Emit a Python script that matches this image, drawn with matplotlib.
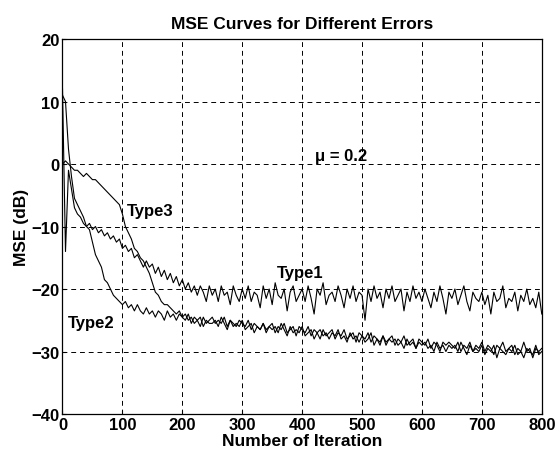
import numpy as np
import matplotlib
matplotlib.use("Agg")
import matplotlib.pyplot as plt

plt.rcParams["font.family"] = ["Liberation Sans", "DejaVu Sans"]
plt.rcParams["font.weight"] = "bold"

# iteration index, one reading every 5 iterations
iterations = np.arange(0, 801, 5)

type1 = [
    12, -14, -1, -4, -7, -8, -8.5, -9.5, -10, -9.5,
    -10.5, -10, -11, -10.5, -11.5, -11, -12, -11.5, -12.5, -12,
    -13.5, -13, -14, -13.5, -15, -14.5, -15.5, -16.5, -15.5, -16.5,
    -16, -17.5, -16.5, -18, -17, -18.5, -17.5, -19, -18, -19.5,
    -18.5, -20, -19, -20.5, -19.5, -21, -19.5, -20.5, -22, -19.5,
    -21, -20, -22, -19.5, -21, -20.5, -22.5, -19.5, -21, -22,
    -20, -21.5, -19.5, -22, -20.5, -21, -23, -19.5, -21.5, -20,
    -22.5, -19, -21, -21.5, -20, -23.5, -20.5, -19.5, -22, -21,
    -20, -22, -19.5, -21.5, -24, -20, -21, -19, -22.5, -21,
    -20.5, -22, -19.5, -21, -23, -20, -21.5, -19.5, -22, -20.5,
    -21, -25, -20, -22, -19.5, -21.5, -20.5, -23, -20, -21.5,
    -19.5, -22, -21, -20, -23.5, -20.5, -22, -19.5, -21.5, -20.5,
    -22, -20, -21.5, -23, -20.5, -22, -19.5, -21.5, -24, -20.5,
    -21.5, -20, -22.5, -21, -19.5, -22, -23.5, -20.5, -21.5, -22,
    -20.5, -22.5, -21, -24, -20.5, -22, -21.5, -19.5, -23, -21.5,
    -22, -20.5, -23.5, -21, -22, -20, -22.5, -21.5, -23, -20.5,
    -24,
]

type2 = [
    11, 10, 2.4, -2, -5.5, -6.5, -7.5, -8.5, -10, -10.5,
    -12.5, -14.5, -15.5, -16.5, -18.5, -19, -20, -21, -21.5, -22,
    -22.5, -22, -23, -22.5, -23.5, -22.5, -23.5, -24, -23, -24,
    -23.5, -24.5, -23.5, -24, -25, -23.5, -24.5, -24, -25, -24,
    -24.5, -25, -24, -25.5, -24.5, -25, -26, -24.5, -25.5, -25,
    -24.5, -25.5, -25, -25.5, -24.5, -26, -25, -25.5, -26, -25,
    -25.5, -26, -25, -26.5, -25.5, -26, -26.5, -25.5, -26.5, -26,
    -25.5, -27, -26, -26.5, -25.5, -27, -26.5, -26, -27.5, -26,
    -26.5, -27, -26, -27.5, -26.5, -27, -28, -26.5, -27.5, -27,
    -26.5, -28, -27, -27.5, -26.5, -28, -27.5, -27, -28.5, -27,
    -27.5, -28, -27, -28.5, -27.5, -28, -29, -27.5, -28.5, -28,
    -27.5, -29, -28, -28.5, -27.5, -29, -28.5, -28, -29.5, -28,
    -28.5, -29, -28, -29.5, -28.5, -29, -30, -28.5, -29, -28.5,
    -29, -29.5, -28.5, -30, -29, -29.5, -28.5, -30, -29, -29.5,
    -28.5, -30, -29, -29.5, -30.5, -29, -29.5, -28.5, -30, -29.5,
    -29, -30.5, -29.5, -30, -28.5, -30, -29.5, -31, -29.5, -30,
    -29.5,
]

type3 = [
    0, 0.5, 0, -0.5, -1, -1, -1.5, -2, -1.5, -2,
    -2.5, -2.5, -3, -3.5, -4, -4.5, -5, -5.5, -6, -6.5,
    -8, -10, -11, -12, -13.5, -14, -15, -15.5, -16.5, -17.5,
    -19, -20.5, -21, -22, -22.5, -22.5, -23, -23.5, -24, -23.5,
    -24.5, -24, -25, -24.5, -25.5, -25, -24.5, -26, -25, -25.5,
    -25.5, -25, -26, -24.5, -25.5, -26.5, -25, -26, -25.5, -26,
    -25, -26.5, -26, -25.5, -27, -26, -26.5, -25.5, -27, -26,
    -26.5, -26, -27, -25.5, -26.5, -27.5, -26, -27, -26.5, -27,
    -26, -27.5, -27, -26.5, -28, -27, -26.5, -27.5, -27, -28,
    -27, -27.5, -26.5, -28, -27.5, -28.5, -27, -28, -27.5, -28.5,
    -27.5, -28.5, -28, -27, -29, -28, -28.5, -27.5, -29, -28,
    -28.5, -28, -29, -28.5, -29.5, -28, -29, -28.5, -29.5, -28.5,
    -29, -28.5, -29.5, -29, -30, -28.5, -29.5, -29, -30, -29,
    -29.5, -29, -30, -28.5, -29.5, -30.5, -29, -30, -29.5, -30,
    -29, -30.5, -29.5, -30, -29, -31, -29.5, -30, -30.5, -29.5,
    -30, -29, -30.5, -30, -31, -29.5, -30, -30.5, -29, -30.5,
    -30,
]

x_ticks = [0, 100, 200, 300, 400, 500, 600, 700, 800]
y_ticks = [-40, -30, -20, -10, 0, 10, 20]

fig = plt.figure(figsize=(5.56, 4.6), dpi=100)
ax = fig.add_axes([0.1124, 0.0978, 0.862, 0.8152])

for series in (type1, type2, type3):
    ax.plot(iterations, series, color="black", linewidth=0.8)

ax.set_xlim(0, 800)
ax.set_ylim(-40, 20)
ax.set_xticks(x_ticks)
ax.set_yticks(y_ticks)
ax.grid(True, color="black", linestyle=(0, (5, 4)), linewidth=0.7)
ax.tick_params(direction="in", length=3, labelsize=12, pad=2)
for s in ax.spines.values():
    s.set_linewidth(0.9)

ax.text(108, -7.5, "Type3", fontsize=12, fontweight="bold", va="center")
ax.text(358, -17.4, "Type1", fontsize=12, fontweight="bold", va="center")
ax.text(9, -25.3, "Type2", fontsize=12, fontweight="bold", va="center")
ax.text(421, 0.7, "μ = 0.2", fontsize=12, fontweight="bold", va="baseline")

ax.set_title("MSE Curves for Different Errors", fontsize=12.5, fontweight="bold", pad=8)
ax.set_xlabel("Number of Iteration", fontsize=12.5, fontweight="bold", labelpad=1)
ax.set_ylabel("MSE (dB)", fontsize=12.5, fontweight="bold", labelpad=2)

fig.savefig("out.png", dpi=100)
